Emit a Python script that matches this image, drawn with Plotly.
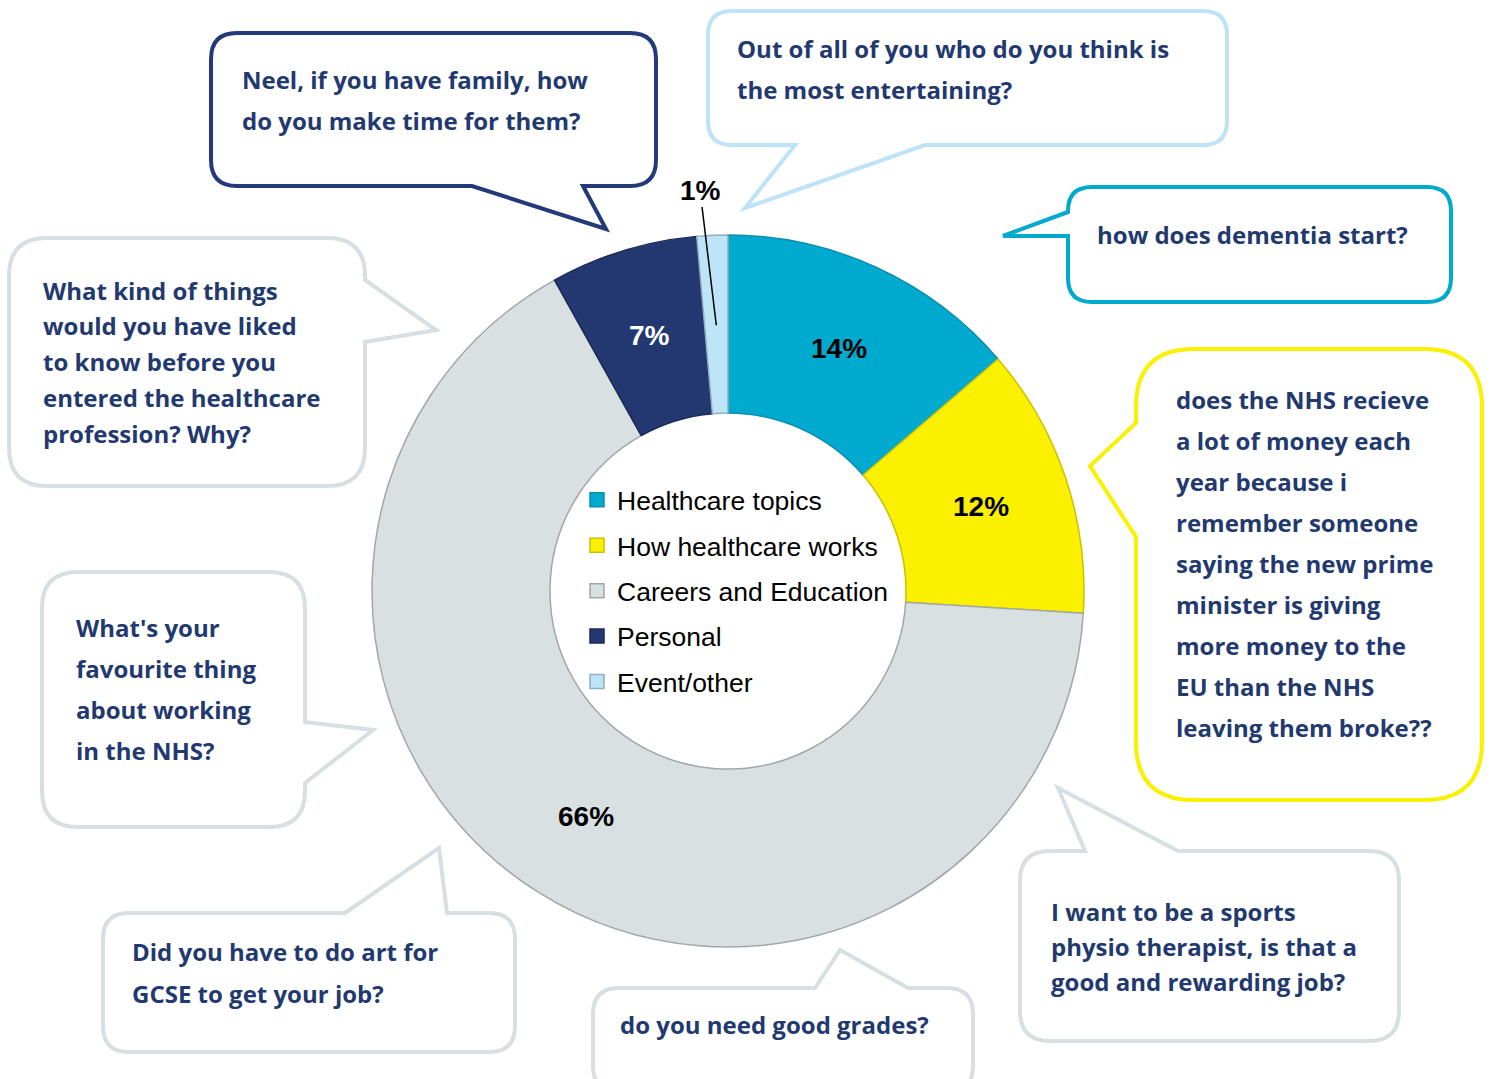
import math
import plotly.graph_objects as go

# ---------------- data ----------------
categories = ["Healthcare topics", "How healthcare works", "Careers and Education", "Personal", "Event/other"]
shares = [13.7, 12.3, 65.9, 6.7, 1.4]
slice_colors = ["#00A9CE", "#FAF000", "#D9E0E2", "#233771", "#BEE4F7"]
slice_edges = ["#0A8FB0", "#C9C200", "#A3A6A8", "#1A2A58", "#8FAEBF"]
label_colors = ["black", "black", "black", "white", "black"]

questions = [
    ["Neel, if you have family, how", "do you make time for them?"],
    ["Out of all of you who do you think is", "the most entertaining?"],
    ["how does dementia start?"],
    ["does the NHS recieve", "a lot of money each", "year because i", "remember someone",
     "saying the new prime", "minister is giving", "more money to the", "EU than the NHS",
     "leaving them broke??"],
    ["I want to be a sports", "physio therapist, is that a", "good and rewarding job?"],
    ["do you need good grades?"],
    ["Did you have to do art for", "GCSE to get your job?"],
    ["What's your", "favourite thing", "about working", "in the NHS?"],
    ["What kind of things", "would you have liked", "to know before you",
     "entered the healthcare", "profession? Why?"],
]

W, H = 1492, 1079
TEXT_NAVY = "#22396F"
GREY = "#D7DFE2"

bubbles = [
    dict(rect=(211, 33, 656, 186), r=26, side="bottom", a=583, tip=(606, 229), b=472, color="#24397A", tx=240, ty=79, dy=41),
    dict(rect=(708, 11, 1227, 145), r=24, side="bottom", a=925, tip=(745, 208), b=795, color="#BEE3F8", tx=735, ty=48, dy=41),
    dict(rect=(1068, 187, 1451, 302), r=24, side="left", a=236, tip=(1003, 236), b=212, color="#00A9CE", tx=1095, ty=234, dy=41),
    dict(rect=(1136, 349, 1482, 800), r=58, side="left", a=537, tip=(1090, 466), b=423, color="#FAF000", tx=1174, ty=399, dy=41.1),
    dict(rect=(1020, 851, 1399, 1041), r=30, side="top", a=1085, tip=(1058, 788), b=1178, color=GREY, tx=1049, ty=911, dy=35),
    dict(rect=(593, 988, 973, 1092), r=26, side="top", a=815, tip=(840, 950), b=908, color=GREY, tx=618, ty=1024, dy=41),
    dict(rect=(103, 913, 515, 1052), r=26, side="top", a=345, tip=(439, 848), b=447, color=GREY, tx=130, ty=951, dy=42),
    dict(rect=(42, 572, 305, 827), r=36, side="right", a=722, tip=(373, 730), b=783, color=GREY, tx=74, ty=627, dy=41),
    dict(rect=(9, 238, 365, 486), r=38, side="right", a=280, tip=(436, 330), b=342, color=GREY, tx=41, ty=290, dy=35.8),
]


def bubble_path(x0, y0, x1, y1, r, side, a, tip, b):
    p = [f"M {x0 + r},{y0}"]
    if side == "top":
        p += [f"L {a},{y0}", f"L {tip[0]},{tip[1]}", f"L {b},{y0}"]
    p += [f"L {x1 - r},{y0}", f"Q {x1},{y0} {x1},{y0 + r}"]
    if side == "right":
        p += [f"L {x1},{a}", f"L {tip[0]},{tip[1]}", f"L {x1},{b}"]
    p += [f"L {x1},{y1 - r}", f"Q {x1},{y1} {x1 - r},{y1}"]
    if side == "bottom":
        p += [f"L {a},{y1}", f"L {tip[0]},{tip[1]}", f"L {b},{y1}"]
    p += [f"L {x0 + r},{y1}", f"Q {x0},{y1} {x0},{y1 - r}"]
    if side == "left":
        p += [f"L {x0},{a}", f"L {tip[0]},{tip[1]}", f"L {x0},{b}"]
    p += [f"L {x0},{y0 + r}", f"Q {x0},{y0} {x0 + r},{y0}", "Z"]
    return " ".join(p)


fig = go.Figure()

# donut
cx, cy, R, HOLE = 728, 591, 356, 0.5
fig.add_trace(go.Pie(
    labels=categories,
    values=shares,
    sort=False,
    direction="clockwise",
    rotation=0,
    hole=HOLE,
    marker=dict(colors=slice_colors, line=dict(color=slice_edges, width=1.5)),
    textinfo="none",
    showlegend=False,
    domain=dict(x=[(cx - R) / W, (cx + R) / W], y=[1 - (cy + R) / H, 1 - (cy - R) / H]),
    hoverinfo="label+percent",
))

# legend entries
for name, col, edge in zip(categories, slice_colors, slice_edges):
    fig.add_trace(go.Scatter(
        x=[None], y=[None], mode="markers", name=name, legendgroup=name,
        marker=dict(symbol="square", size=14, color=col, line=dict(color=edge, width=1.5)),
    ))

shapes = []
annotations = []
for bub, lines in zip(bubbles, questions):
    x0, y0, x1, y1 = bub["rect"]
    shapes.append(dict(
        type="path", xref="x", yref="y",
        path=bubble_path(x0, y0, x1, y1, bub["r"], bub["side"], bub["a"], bub["tip"], bub["b"]),
        line=dict(color=bub["color"], width=4), fillcolor="white", layer="below",
    ))
    for i, line in enumerate(lines):
        annotations.append(dict(
            x=bub["tx"], y=bub["ty"] + i * bub["dy"], xref="x", yref="y",
            text=line, showarrow=False, xanchor="left", yanchor="middle",
            font=dict(family="Open Sans", size=24, color=TEXT_NAVY, weight=700),
        ))

# percentage labels, placed at the middle of each ring segment (derived from the shares)
total = sum(shares)
start = 0.0
mid_r = R * (1 + HOLE) / 2
for i, v in enumerate(shares):
    frac = v / total
    mid = (start + frac / 2) * 2 * math.pi
    start += frac
    px = cx + mid_r * math.sin(mid)
    py = cy - mid_r * math.cos(mid)
    txt = f"<b>{round(frac * 100)}%</b>"
    if i == len(shares) - 1:
        # thin slice: label outside with leader line
        annotations.append(dict(
            x=cx + (R - 90) * math.sin(mid), y=cy - (R - 90) * math.cos(mid), xref="x", yref="y",
            ax=700, ay=190, axref="x", ayref="y",
            text=txt, showarrow=True, arrowhead=0, arrowwidth=1.5, arrowcolor="black", standoff=0,
            font=dict(family="Liberation Sans, Arial", size=28, color=label_colors[i]),
        ))
    else:
        annotations.append(dict(
            x=px, y=py, xref="x", yref="y", text=txt, showarrow=False,
            font=dict(family="Liberation Sans, Arial", size=28, color=label_colors[i]),
        ))

fig.update_layout(
    width=W, height=H,
    margin=dict(l=0, r=0, t=0, b=0),
    paper_bgcolor="white", plot_bgcolor="white",
    xaxis=dict(range=[0, W], visible=False, fixedrange=True),
    yaxis=dict(range=[H, 0], visible=False, fixedrange=True),
    shapes=shapes,
    annotations=annotations,
    showlegend=True,
    legend=dict(
        x=577 / W, y=1 - 476 / H, xanchor="left", yanchor="top",
        font=dict(family="Liberation Sans, Arial", size=26.5, color="black"),
        bgcolor="rgba(0,0,0,0)", tracegroupgap=8, itemwidth=30,
    ),
)

fig.write_html(
    "out.html",
    config={"displayModeBar": False},
    post_script="document.body.style.margin='0';document.body.style.overflow='hidden';",
)
